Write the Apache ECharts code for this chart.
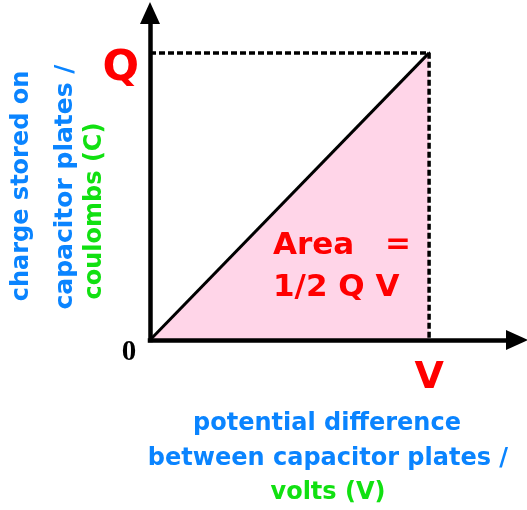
<!DOCTYPE html>
<html>
<head>
<meta charset="utf-8">
<script src="https://cdn.jsdelivr.net/npm/echarts@6/dist/echarts.min.js"></script>
<style>
  html, body { margin: 0; padding: 0; background: #fff; }
  #chart { width: 527px; height: 510px; }
</style>
</head>
<body>
<div id="chart"></div>
<script>
// 数据：电压 V 与电荷 Q（相对值）
const voltage = [0, 1];
const charge = [0, 1];
// 刻度标签
const xTickValues = [1];
const xTickLabels = ['V'];
const yTickValues = [1];
const yTickLabels = ['Q'];
// 坐标轴标题
const yTitleLines = ['charge stored on', 'capacitor plates /', 'coulombs (C)'];
const xTitleLines = ['potential difference', 'between capacitor plates /', 'volts (V)'];
const areaLines = ['Area', '=', '1/2 Q V'];

const BLUE = '#0a84ff';
const GREEN = '#11e011';
const RED = '#ff0000';
const FONT = '"DejaVu Sans", sans-serif';

const chart = echarts.init(document.getElementById('chart'));

const tickFormatter = (values, labels) => (v) => {
  const i = values.indexOf(v);
  return i >= 0 ? labels[i] : '';
};

const axisLineStyle = {
  show: true,
  symbol: ['none', 'triangle'],
  symbolSize: [20, 22],
  lineStyle: { color: '#000', width: 4.5, cap: 'square' },
};

const option = {
  animation: false,
  backgroundColor: '#fff',
  grid: { left: 150, top: 13, right: 10, bottom: 170, containLabel: false },
  xAxis: {
    type: 'value',
    min: 0,
    max: 1.315,
    interval: 1,
    z: 5,
    axisLine: axisLineStyle,
    axisTick: { show: false },
    splitLine: { show: false },
    axisLabel: {
      margin: 19,
      color: RED,
      fontSize: 38,
      fontWeight: 'bold',
      fontFamily: FONT,
      formatter: tickFormatter(xTickValues, xTickLabels),
    },
  },
  yAxis: {
    type: 'value',
    min: 0,
    max: 1.139,
    interval: 1,
    z: 5,
    axisLine: axisLineStyle,
    axisTick: { show: false },
    splitLine: { show: false },
    axisLabel: {
      margin: 11,
      verticalAlign: 'top',
      lineHeight: 31,
      color: RED,
      fontSize: 43,
      fontWeight: 'bold',
      fontFamily: FONT,
      formatter: tickFormatter(yTickValues, yTickLabels),
    },
  },
  series: [
    {
      type: 'line',
      data: voltage.map((v, i) => [v, charge[i]]),
      symbol: 'none',
      z: 2,
      lineStyle: { color: '#000', width: 3 },
      areaStyle: { color: '#ffd5e8', opacity: 1 },
    },
    {
      type: 'line',
      data: [[0, charge[1]], [voltage[1], charge[1]], [voltage[1], 0]],
      symbol: 'none',
      z: 3,
      lineStyle: { color: '#000', width: 3.5, type: [6, 3] },
    },
  ],
  graphic: [
    // 原点 0
    { type: 'text', x: 129, y: 353, style: { text: '0', fill: '#000', font: 'bold 29px "Liberation Serif", serif', textAlign: 'center', textVerticalAlign: 'middle' } },
    // 纵轴标题
    { type: 'text', x: 22, y: 186, rotation: Math.PI / 2, style: { text: yTitleLines[0], fill: BLUE, font: 'bold 24px ' + FONT, textAlign: 'center', textVerticalAlign: 'middle' } },
    { type: 'text', x: 65, y: 187, rotation: Math.PI / 2, style: { text: yTitleLines[1], fill: BLUE, font: 'bold 25px ' + FONT, textAlign: 'center', textVerticalAlign: 'middle' } },
    { type: 'text', x: 95, y: 211, rotation: Math.PI / 2, style: { text: yTitleLines[2], fill: GREEN, font: 'bold 24px ' + FONT, textAlign: 'center', textVerticalAlign: 'middle' } },
    // 横轴标题
    { type: 'text', x: 327, y: 424, style: { text: xTitleLines[0], fill: BLUE, font: 'bold 24px ' + FONT, textAlign: 'center', textVerticalAlign: 'middle' } },
    { type: 'text', x: 328, y: 459, style: { text: xTitleLines[1], fill: BLUE, font: 'bold 24px ' + FONT, textAlign: 'center', textVerticalAlign: 'middle' } },
    { type: 'text', x: 328, y: 493, style: { text: xTitleLines[2], fill: GREEN, font: 'bold 24px ' + FONT, textAlign: 'center', textVerticalAlign: 'middle' } },
    // 面积说明
    { type: 'text', x: 273, y: 246, z: 10, style: { text: areaLines[0], fill: RED, font: 'bold 31px ' + FONT, textAlign: 'left', textVerticalAlign: 'middle' } },
    { type: 'text', x: 411, y: 245, z: 10, style: { text: areaLines[1], fill: RED, font: 'bold 31px ' + FONT, textAlign: 'right', textVerticalAlign: 'middle' } },
    { type: 'text', x: 273, y: 288, z: 10, style: { text: areaLines[2], fill: RED, font: 'bold 31px ' + FONT, textAlign: 'left', textVerticalAlign: 'middle' } },
  ],
};

chart.setOption(option);
</script>
</body>
</html>
